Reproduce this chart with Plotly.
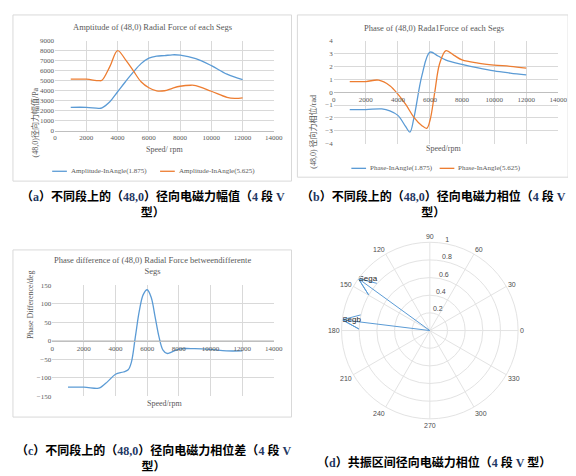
import math
import plotly.graph_objects as go

# ---- (a) amplitude of (48,0) radial force, Pa
amp_speed_1875 = [1000, 2000, 2800, 3000, 3500, 4000, 4500, 5000, 5500, 6000, 6500,
                  7000, 7500, 8000, 9000, 10000, 11000, 12000]
amp_1875 = [2350, 2350, 2250, 2300, 2900, 3900, 4900, 5850, 6700, 7250, 7450,
            7500, 7580, 7550, 7200, 6500, 5650, 5100]
amp_speed_5625 = [1000, 2000, 2800, 3000, 3500, 4000, 4500, 5000, 5500, 6000, 6500,
                  7000, 7500, 8000, 8700, 9000, 10000, 11000, 11500, 12000]
amp_5625 = [5150, 5150, 5000, 5050, 6400, 8000, 7100, 6000, 4900, 4300, 3980,
            4000, 4250, 4450, 4550, 4520, 3950, 3350, 3250, 3300]

# ---- (b) phase of (48,0) radial force, rad
ph_speed_1875 = [1000, 2000, 3000, 3500, 4000, 4500, 4750, 5000, 5500, 6000, 6500,
                 7000, 8000, 9000, 10000, 11000, 12000]
ph_1875 = [-1.35, -1.35, -1.3, -1.45, -1.8, -2.7, -3.1, -2.0, 1.3, 3.1, 2.8,
           2.48, 2.15, 1.88, 1.65, 1.48, 1.33]
ph_speed_5625 = [1000, 2000, 2800, 3500, 4000, 4500, 5000, 5500, 5800, 6000, 6300,
                 6600, 7000, 7500, 8000, 9000, 10000, 11000, 12000]
ph_5625 = [0.82, 0.82, 0.93, 0.5, -0.15, -0.97, -1.95, -2.6, -2.8, -2.2, 0.0,
           2.2, 3.22, 2.85, 2.5, 2.25, 2.1, 2.0, 1.86]

# ---- (c) phase difference between segments, deg
diff_speed = [1000, 2000, 2800, 3000, 3500, 4000, 4500, 4800, 5000, 5250, 5500, 5750,
              6000, 6250, 6500, 6750, 7000, 7250, 7500, 8000, 9000, 10000, 11000, 12000]
phase_diff = [-125, -125, -128, -127, -110, -90, -84, -78, -58, 10, 80, 125,
              138, 118, 65, 10, -25, -34, -31, -22, -21, -23, -27, -27]

# ---- (d) compass plot in resonance region
seg_names = ["Sega", "Segb"]
seg_phase_deg = [144, 173]
seg_mag = [1.0, 1.0]
r_ticks = [0.2, 0.4, 0.6, 0.8, 1]
r_tick_text = ["0.2", "0.4", "0.6", "0.8", "1"]

BLUE = "#5b9bd5"
ORANGE = "#ed7d31"
GRID = "#d9d9d9"
TXT = "#595959"
NAVY = "#1f3864"
SERIF = "Liberation Serif, Times New Roman, serif"
CJK = "Liberation Serif, Noto Sans CJK SC, serif"
SANS = "Liberation Sans, Arial, sans-serif"

W, H = 576, 476


def px(x):
    return x / W


def py(y):
    return 1 - y / H


def navy(s):
    return f'<span style="color:{NAVY}">{s}</span>'


fig = go.Figure()

fig.add_trace(go.Scatter(x=amp_speed_1875, y=amp_1875, mode="lines", line_shape="spline",
                         line=dict(color=BLUE, width=1.3), name="Amplitude-InAngle(1.875)",
                         xaxis="x", yaxis="y"))
fig.add_trace(go.Scatter(x=amp_speed_5625, y=amp_5625, mode="lines", line_shape="spline",
                         line=dict(color=ORANGE, width=1.3), name="Amplitude-InAngle(5.625)",
                         xaxis="x", yaxis="y"))

fig.add_trace(go.Scatter(x=ph_speed_1875, y=ph_1875, mode="lines", line_shape="spline",
                         line=dict(color=BLUE, width=1.3), name="Phase-InAngle(1.875)",
                         xaxis="x2", yaxis="y2"))
fig.add_trace(go.Scatter(x=ph_speed_5625, y=ph_5625, mode="lines", line_shape="spline",
                         line=dict(color=ORANGE, width=1.3), name="Phase-InAngle(5.625)",
                         xaxis="x2", yaxis="y2"))

fig.add_trace(go.Scatter(x=diff_speed, y=phase_diff, mode="lines", line_shape="spline",
                         line=dict(color=BLUE, width=1.3), xaxis="x3", yaxis="y3"))

# compass arrows (MATLAB style head: points (0.8, +/-0.08) in arrow frame)
for name, ang, mag in zip(seg_names, seg_phase_deg, seg_mag):
    t = math.radians(ang)
    ux, uy = math.cos(t), math.sin(t)
    pts = [(0, 0), (1, 0), (0.8, 0.08), (1, 0), (0.8, -0.08)]
    rr, tt = [], []
    for a, b in pts:
        x = mag * (a * ux - b * uy)
        y = mag * (a * uy + b * ux)
        rr.append(math.hypot(x, y))
        tt.append(math.degrees(math.atan2(y, x)))
    fig.add_trace(go.Scatterpolar(r=rr, theta=tt, mode="lines",
                                  line=dict(color=BLUE, width=1)))
    fig.add_trace(go.Scatterpolar(r=[mag], theta=[ang], mode="text", text=[name],
                                  textposition="middle right",
                                  textfont=dict(family=SANS, size=8, color="#262626")))

# radial labels, MATLAB style at 80 degrees, kept horizontal
fig.add_trace(go.Scatterpolar(r=r_ticks, theta=[80] * len(r_ticks), mode="text",
                              text=r_tick_text, textposition="top right",
                              textfont=dict(family=SANS, size=7, color="#4d4d4d")))

tick_font = dict(family=SERIF, size=7, color=TXT)
xcommon = dict(range=[0, 14000], dtick=2000, tickformat="d", showgrid=True, gridcolor=GRID,
               gridwidth=1, zeroline=False, tickfont=tick_font, ticks="")
ycommon = dict(showgrid=True, gridcolor=GRID, gridwidth=1, tickfont=tick_font, ticks="",
               tickformat="d", zeroline=False)

ang_vals = list(range(0, 360, 30))
fig.update_layout(
    width=W, height=H,
    margin=dict(l=0, r=0, t=0, b=0),
    showlegend=False,
    paper_bgcolor="white", plot_bgcolor="white",
    xaxis=dict(xcommon, domain=[px(46), px(269)], anchor="y", showline=True, linecolor="#bfbfbf"),
    yaxis=dict(ycommon, domain=[py(121), py(29)], anchor="x", range=[0, 9000], dtick=1000),
    xaxis2=dict(xcommon, domain=[px(330), px(559)], anchor="free", position=py(81.5),
                showline=True, linecolor="#bfbfbf"),
    yaxis2=dict(ycommon, domain=[py(134), py(29)], anchor="x2", range=[-4, 4], dtick=1),
    xaxis3=dict(xcommon, domain=[px(43), px(269)], anchor="free", position=py(335),
                showline=True, linecolor="#bfbfbf"),
    yaxis3=dict(ycommon, domain=[py(391), py(278)], anchor="x3", range=[-150, 150], dtick=50),
    polar=dict(
        domain=dict(x=[px(338), px(518)], y=[py(414), py(234)]),
        bgcolor="white",
        radialaxis=dict(range=[0, 1], tickvals=r_ticks, showticklabels=False,
                        angle=80, showline=False, ticks="", gridcolor="#e3e3e3"),
        angularaxis=dict(tickvals=ang_vals, ticktext=[str(v) for v in ang_vals],
                         rotation=0, direction="counterclockwise", ticks="",
                         gridcolor="#e3e3e3", linecolor="#e3e3e3",
                         tickfont=dict(family=SANS, size=7, color="#4d4d4d")),
    ),
)

# chart borders
for x0, y0, x1, y1 in [(3, 3, 287, 172), (293, 3, 569, 168), (3, 242, 287, 412)]:
    fig.add_shape(type="rect", xref="paper", yref="paper", x0=px(x0), x1=px(x1),
                  y0=py(y1), y1=py(y0), line=dict(color="#d9d9d9", width=1))

# Excel-style legends below charts (a) and (b)
legend_items = [
    (43, 162, BLUE, "Amplitude-InAngle(1.875)"),
    (153, 162, ORANGE, "Amplitude-InAngle(5.625)"),
    (348, 159, BLUE, "Phase-InAngle(1.875)"),
    (438, 159, ORANGE, "Phase-InAngle(5.625)"),
]
for lx, ly, col, label in legend_items:
    fig.add_shape(type="line", xref="paper", yref="paper", x0=px(lx), x1=px(lx + 15),
                  y0=py(ly), y1=py(ly), line=dict(color=col, width=1.3))
    fig.add_annotation(x=px(lx + 17), y=py(ly), xref="paper", yref="paper", text=label,
                       showarrow=False, xanchor="left", yanchor="middle",
                       font=dict(family=SERIF, size=7, color=TXT))

cap_a = f"<b>（{navy('a')}）不同段上的（{navy('48,0')}）径向电磁力幅值（{navy('4')} 段 {navy('V')}<br>型）</b>"
cap_b = f"<b>（{navy('b')}）不同段上的（{navy('48,0')}）径向电磁力相位（{navy('4')} 段 {navy('V')}<br>型）</b>"
cap_c = f"<b>（{navy('c')}）不同段上的（{navy('48,0')}）径向电磁力相位差（{navy('4')} 段 {navy('V')}<br>型）</b>"
cap_d = f"<b>（{navy('d')}）共振区间径向电磁力相位（{navy('4')} 段 {navy('V')} 型）</b>"

ann = [
    # chart titles
    dict(x=px(145), y=py(15), text="Amptitude of (48,0) Radial Force of each Segs", size=8.5, family=SERIF, color=TXT),
    dict(x=px(432), y=py(16), text="Phase of (48,0) Rada1Force of each Segs", size=8.5, family=SERIF, color=TXT),
    dict(x=px(145), y=py(258), text="Phase difference of (48,0) Radial Force betweendifferente<br>Segs",
         size=8.5, family=SERIF, color=TXT),
    # x-axis titles
    dict(x=px(157), y=py(140), text="Speed/ rpm", size=8, family=SERIF, color=TXT),
    dict(x=px(442), y=py(139), text="Speed/rpm", size=8, family=SERIF, color=TXT),
    dict(x=px(157), y=py(398), text="Speed/rpm", size=8, family=SERIF, color=TXT),
    # captions
    dict(x=px(146), y=py(196), text=cap_a, size=12, family=CJK, color="black"),
    dict(x=px(432), y=py(196), text=cap_b, size=12, family=CJK, color="black"),
    dict(x=px(146), y=py(454), text=cap_c, size=12, family=CJK, color="black"),
    dict(x=px(432), y=py(458), text=cap_d, size=12, family=CJK, color="black"),
]
for a in ann:
    fig.add_annotation(x=a["x"], y=a["y"], xref="paper", yref="paper", text=a["text"],
                       showarrow=False, xanchor="center", yanchor="middle",
                       font=dict(family=a["family"], size=a["size"], color=a["color"]))

# y-axis titles
for x, y, t in [(18, 75, "(48,0)径向力幅值/Pa"), (309, 82, "(48,0) 径向力相位/rad"),
                (15, 335, "Phase Difference/deg")]:
    fig.add_annotation(x=px(x), y=py(y), xref="paper", yref="paper", text=t, textangle=-90,
                       showarrow=False, font=dict(family=CJK, size=8, color=TXT))

fig.write_html("out.html")
